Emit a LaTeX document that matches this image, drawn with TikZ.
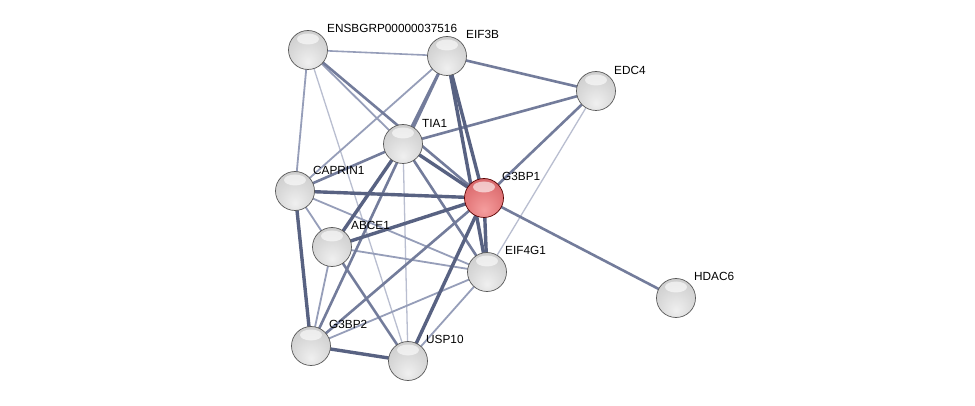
\documentclass[tikz,border=0pt]{standalone}
\usepackage{fontspec}
\setmainfont{Liberation Sans}
\usetikzlibrary{backgrounds}
\pgfdeclareradialshading{gball}{\pgfpoint{0bp}{-16bp}}{%
  color(0bp)=(white!88!gray);
  color(22bp)=(white!70!gray);
  color(40bp)=(white!57!gray);
  color(54bp)=(white!45!gray);
  color(64bp)=(white!22!gray);
  color(80bp)=(white!10!gray)}
\pgfdeclareradialshading{rball}{\pgfpoint{0bp}{-16bp}}{%
  color(0bp)=(rgb,255:red,245;green,158;blue,158);
  color(22bp)=(rgb,255:red,228;green,122;blue,124);
  color(40bp)=(rgb,255:red,210;green,96;blue,100);
  color(54bp)=(rgb,255:red,188;green,72;blue,76);
  color(64bp)=(rgb,255:red,150;green,40;blue,45);
  color(80bp)=(rgb,255:red,120;green,25;blue,30)}
\definecolor{ec1}{RGB}{185,190,208}
\definecolor{ec2}{RGB}{150,158,185}
\definecolor{ec3}{RGB}{115,124,155}
\definecolor{ec4}{RGB}{88,98,130}
\tikzset{
  e1/.style={draw=ec1,line width=1.3pt},
  e2/.style={draw=ec2,line width=1.8pt},
  e3/.style={draw=ec3,line width=2.6pt},
  e4/.style={draw=ec4,line width=3.4pt},
  ballnode/.style={circle,minimum size=39pt,inner sep=0pt,shading=gball,
    draw=gray!70!black,line width=0.7pt,
    path picture={\fill[white,opacity=0.6] ([yshift=11pt]path picture bounding box.center) ellipse (11pt and 5.5pt);}},
  redball/.style={ballnode,shading=rball,draw=red!35!black},
  lbl/.style={anchor=west,inner sep=0pt,font=\fontsize{11.8}{13}\selectfont,text=black}
}
\begin{document}
\begin{tikzpicture}[x=1pt,y=-1pt]
\useasboundingbox (0,0) rectangle (975,406);
% nodes
\node[ballnode] (ens) at (308,50) {};
\node[ballnode] (eif3b) at (447,56) {};
\node[ballnode] (edc4) at (596,91) {};
\node[ballnode] (tia1) at (403,144) {};
\node[ballnode] (caprin1) at (295,191) {};
\node[redball] (g3bp1) at (484,198) {};
\node[ballnode] (abce1) at (332,247) {};
\node[ballnode] (eif4g1) at (487,272) {};
\node[ballnode] (hdac6) at (676,298) {};
\node[ballnode] (g3bp2) at (311,346) {};
\node[ballnode] (usp10) at (408,361) {};
% edges
\begin{scope}[on background layer]
\fill[white] (0,0) rectangle (975,406);
\draw[e1] (ens.center) -- (usp10.center);
\draw[e1] (tia1.center) -- (usp10.center);
\draw[e1] (edc4.center) -- (eif4g1.center);
\draw[e2,line width=1.6pt] (ens.center) -- (eif3b.center);
\draw[e2] (ens.center) -- (caprin1.center);
\draw[e2] (ens.center) -- (tia1.center);
\draw[e2] (eif3b.center) -- (caprin1.center);
\draw[e2] (caprin1.center) -- (abce1.center);
\draw[e2] (caprin1.center) -- (eif4g1.center);
\draw[e2] (abce1.center) -- (eif4g1.center);
\draw[e2] (abce1.center) -- (g3bp2.center);
\draw[e2] (eif4g1.center) -- (g3bp2.center);
\draw[e2] (eif4g1.center) -- (usp10.center);
\draw[e3] (ens.center) -- (g3bp1.center);
\draw[e3] (eif3b.center) -- (edc4.center);
\draw[e3] (eif3b.center) -- (tia1.center);
\draw[e3] (eif3b.center) -- (g3bp2.center);
\draw[e3] (edc4.center) -- (tia1.center);
\draw[e3] (edc4.center) -- (g3bp1.center);
\draw[e3] (tia1.center) -- (caprin1.center);
\draw[e3] (tia1.center) -- (eif4g1.center);
\draw[e3] (abce1.center) -- (usp10.center);
\draw[e3] (g3bp1.center) -- (hdac6.center);
\draw[e3] (g3bp1.center) -- (g3bp2.center);
\draw[e4] (eif3b.center) -- (g3bp1.center);
\draw[e4] (eif3b.center) -- (eif4g1.center);
\draw[e4] (tia1.center) -- (g3bp1.center);
\draw[e4] (tia1.center) -- (abce1.center);
\draw[e4] (caprin1.center) -- (g3bp1.center);
\draw[e4] (caprin1.center) -- (g3bp2.center);
\draw[e4] (abce1.center) -- (g3bp1.center);
\draw[e4] (g3bp1.center) -- (eif4g1.center);
\draw[e4] (g3bp1.center) -- (usp10.center);
\draw[e4] (g3bp2.center) -- (usp10.center);
\end{scope}
% labels
\node[lbl] (lens) at (327,28) {ENSBGRP00000037516};
\node[lbl] (leif3b) at (466,34) {EIF3B};
\node[lbl] (ledc4) at (614,70) {EDC4};
\node[lbl] (ltia1) at (422,123) {TIA1};
\node[lbl] (lcaprin1) at (313,170) {CAPRIN1};
\node[lbl] (lg3bp1) at (502,176) {G3BP1};
\node[lbl] (labce1) at (351,225) {ABCE1};
\node[lbl] (leif4g1) at (505,250) {EIF4G1};
\node[lbl] (lhdac6) at (694,276) {HDAC6};
\node[lbl] (lg3bp2) at (329,324) {G3BP2};
\node[lbl] (lusp10) at (426,339) {USP10};
\end{tikzpicture}
\end{document}
